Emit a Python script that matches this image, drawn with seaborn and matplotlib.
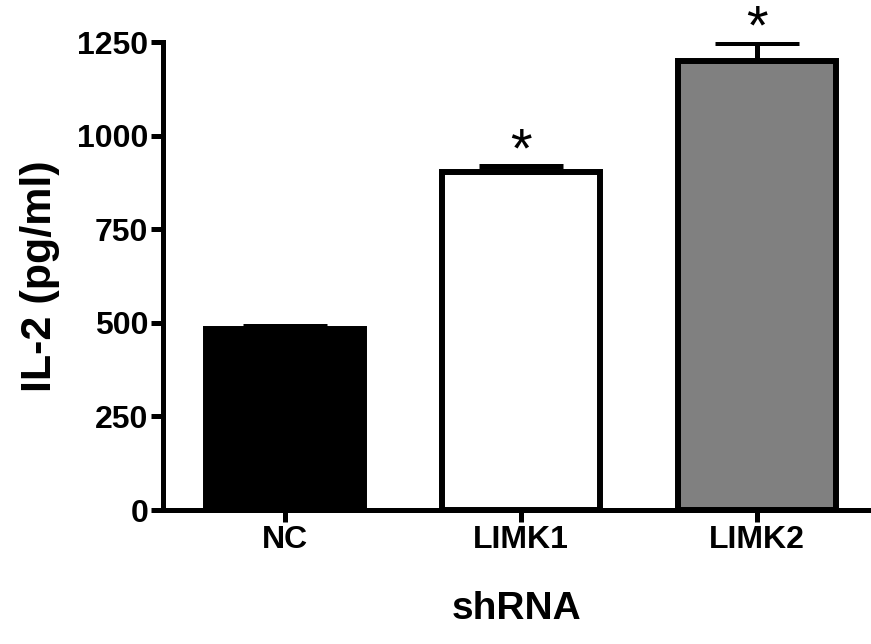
import matplotlib
matplotlib.use('Agg')
import matplotlib.pyplot as plt
import seaborn as sns
import pandas as pd

groups = ['NC', 'LIMK1', 'LIMK2']
il2_mean = [484, 904, 1198]
il2_sem = [7, 16, 50]
bar_colors = ['#000000', '#ffffff', '#808080']
significant = [False, True, True]

sns.set_theme(style='ticks', rc={'text.color': 'black', 'axes.labelcolor': 'black',
                                 'xtick.color': 'black', 'ytick.color': 'black',
                                 'axes.edgecolor': 'black'})
plt.rcParams['font.family'] = ['Liberation Sans', 'DejaVu Sans']
plt.rcParams['font.weight'] = 'bold'

df = pd.DataFrame({'shRNA': groups, 'IL2': il2_mean})

fig = plt.figure(figsize=(8.71, 6.44), dpi=100)
ax = fig.add_axes([163 / 871, 134 / 644, 707 / 871, 468 / 644])

sns.barplot(data=df, x='shRNA', y='IL2', hue='shRNA', palette=bar_colors,
            edgecolor='black', linewidth=4.3, width=0.67, errorbar=None,
            legend=False, ax=ax)

# upper error bar only
ax.errorbar(range(len(groups)), il2_mean,
            yerr=[[0] * len(groups), il2_sem],
            fmt='none', ecolor='black', elinewidth=3.6, capsize=30, capthick=3.6,
            zorder=1)

for i, (m, e, s) in enumerate(zip(il2_mean, il2_sem, significant)):
    if s:
        ax.text(i, m + e - 34, '*', ha='center', va='bottom', fontsize=40,
                fontweight='normal', color='black', clip_on=False)

ax.set_ylim(0, 1250)
ax.set_xlim(-0.517, 2.48)
ax.set_yticks([0, 250, 500, 750, 1000, 1250])
ax.set_xlabel('shRNA', fontsize=28, fontweight='bold', labelpad=26)
ax.set_ylabel('IL-2 (pg/ml)', fontsize=31, fontweight='bold', labelpad=12)
ax.tick_params(axis='both', labelsize=23, width=3.6, length=8.6, pad=2)
for lab in ax.get_xticklabels() + ax.get_yticklabels():
    lab.set_fontweight('bold')

sns.despine(ax=ax)
for side in ['left', 'bottom']:
    ax.spines[side].set_linewidth(3.6)

fig.savefig('out.png', dpi=100)
